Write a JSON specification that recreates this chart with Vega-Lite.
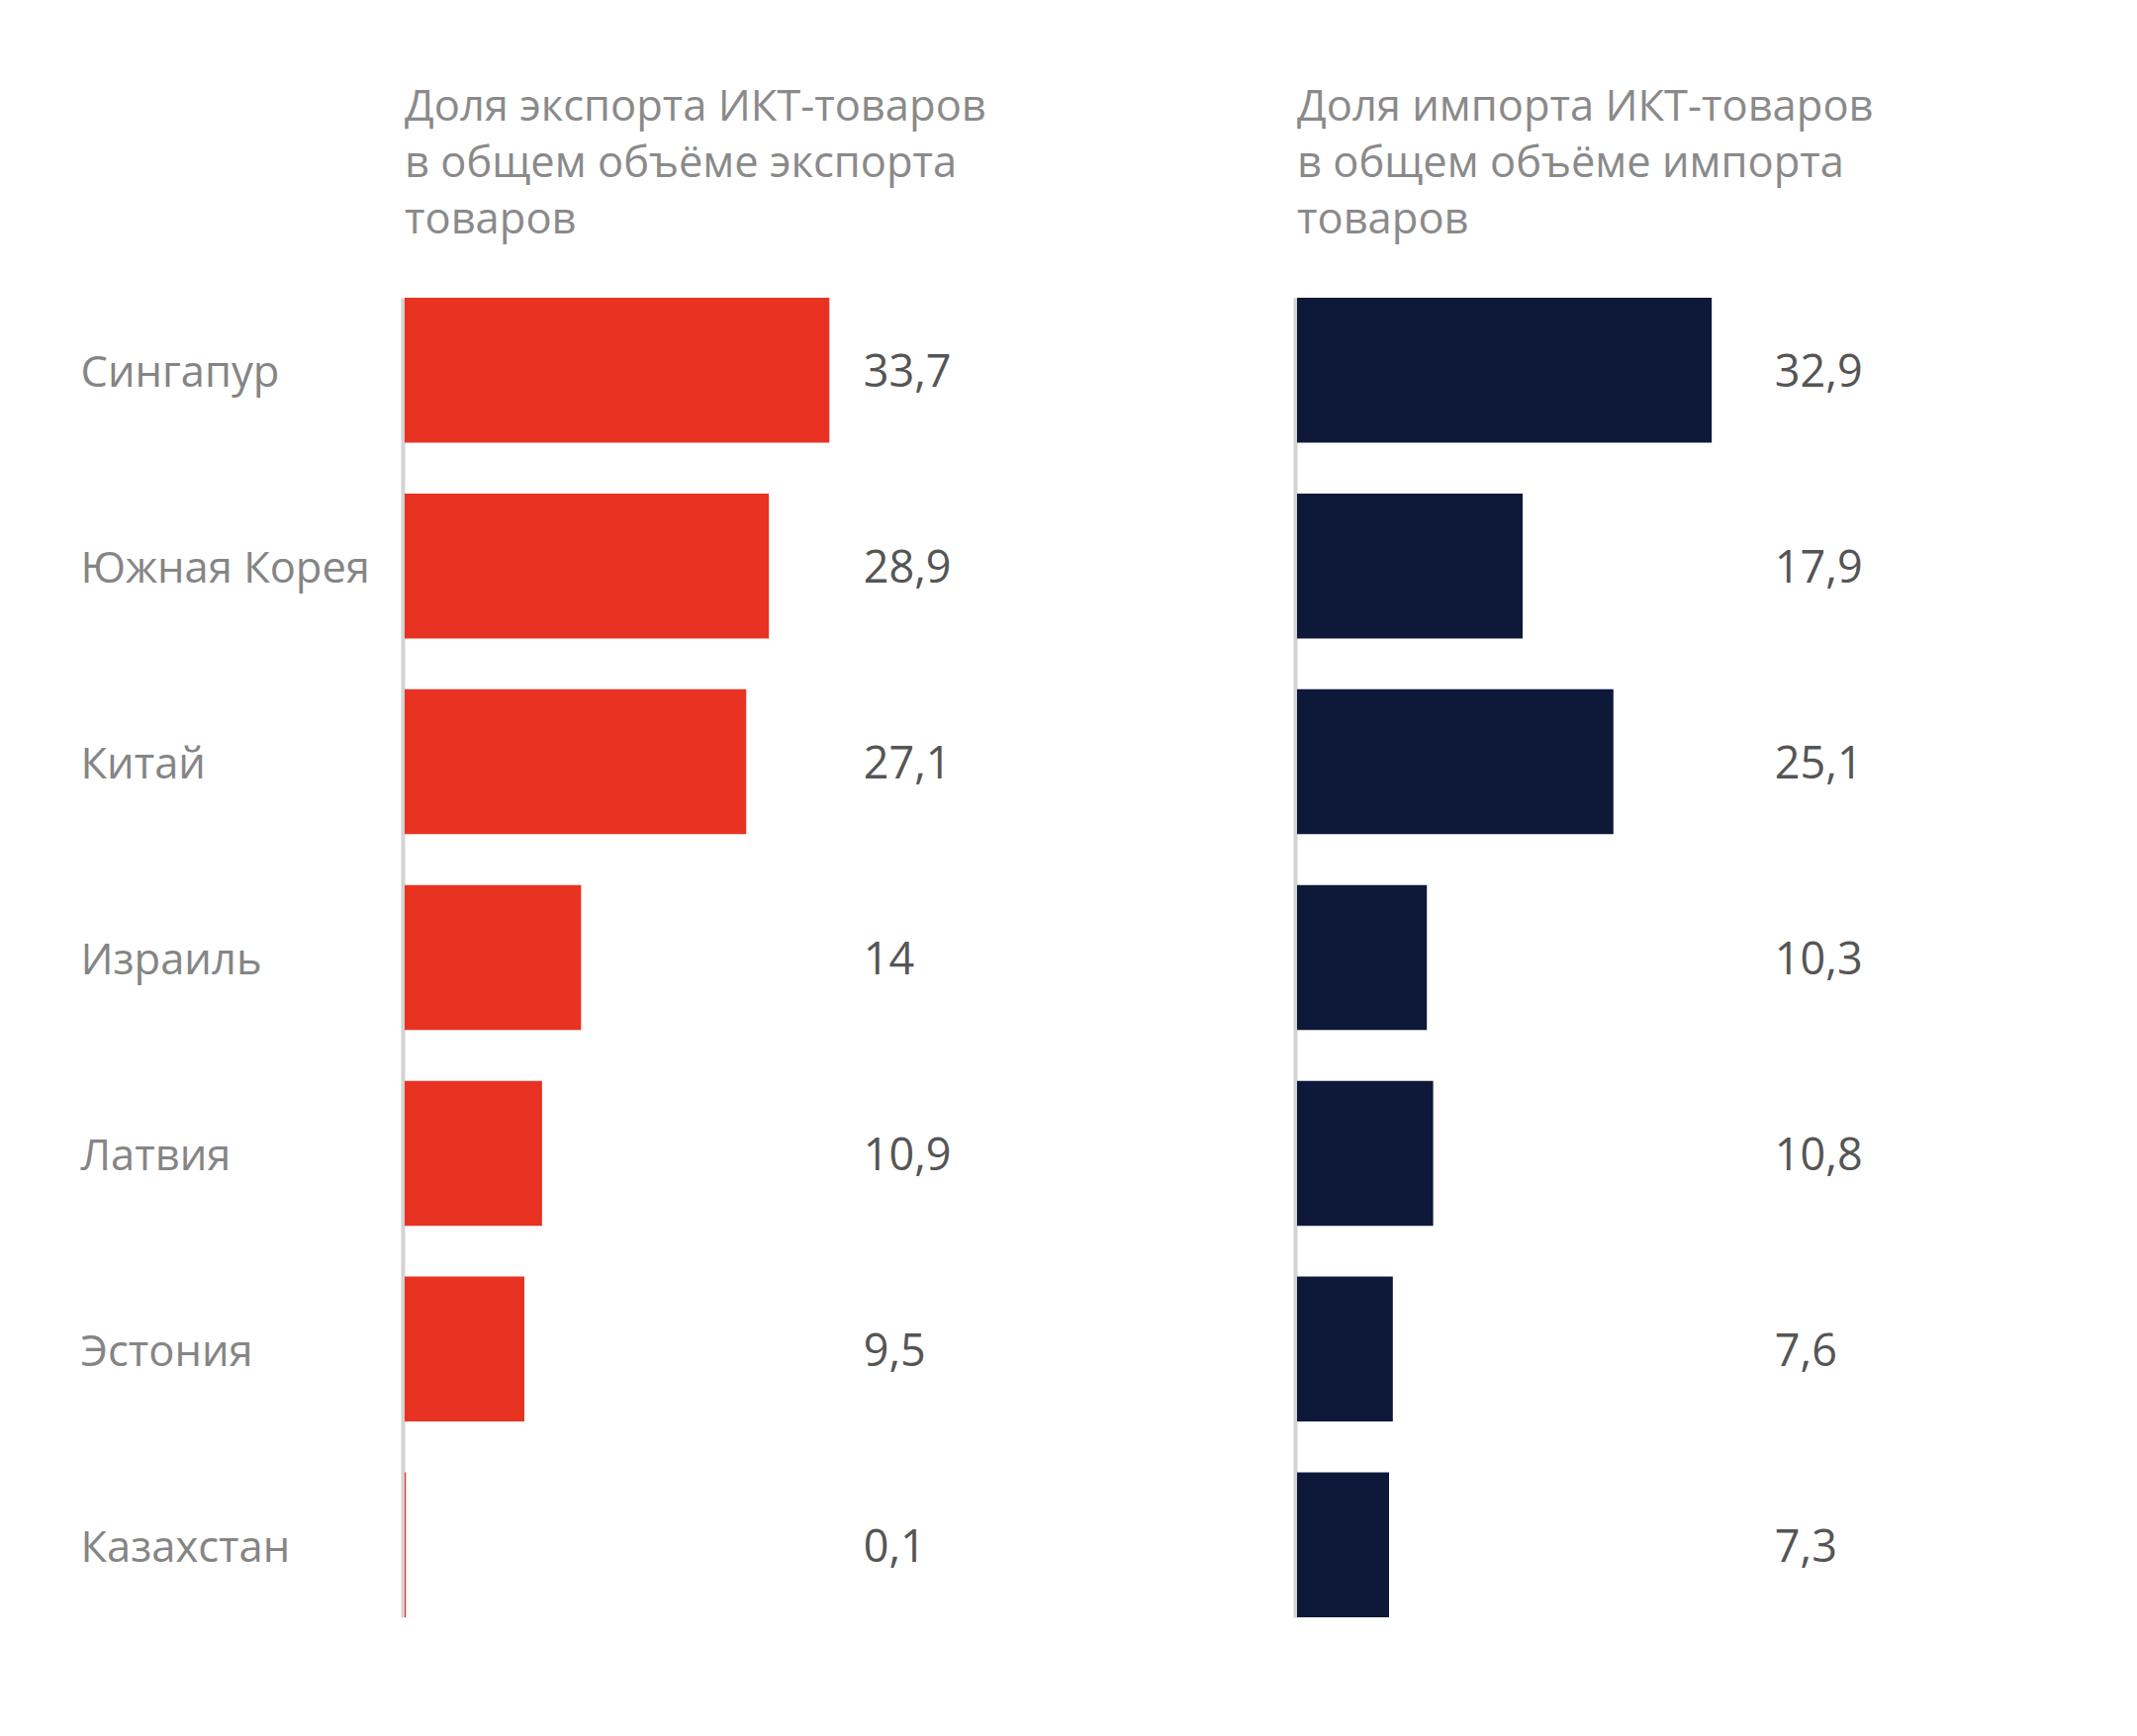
{
  "$schema": "https://vega.github.io/schema/vega-lite/v6.json",
  "background": "white",
  "padding": {"left": 81, "top": 86, "right": 20, "bottom": 40},
  "autosize": {"type": "pad"},
  "spacing": 263,
  "config": {
    "view": {"stroke": null},
    "font": "Open Sans",
    "locale": {"number": {"decimal": ",", "thousands": " ", "grouping": [3], "currency": ["", " ₽"]}}
  },
  "data": {
    "values": [
      {"country": "Сингапур", "export": 33.7, "import": 32.9},
      {"country": "Южная Корея", "export": 28.9, "import": 17.9},
      {"country": "Китай", "export": 27.1, "import": 25.1},
      {"country": "Израиль", "export": 14, "import": 10.3},
      {"country": "Латвия", "export": 10.9, "import": 10.8},
      {"country": "Эстония", "export": 9.5, "import": 7.6},
      {"country": "Казахстан", "export": 0.1, "import": 7.3}
    ]
  },
  "hconcat": [
    {
      "title": {
        "text": ["Доля экспорта ИКТ-товаров", "в общем объёме экспорта", "товаров"],
        "anchor": "start", "frame": "group", "fontSize": 43.5, "lineHeight": 57,
        "color": "#8a8a8a", "fontWeight": "normal", "font": "Open Sans", "offset": 56
      },
      "width": 637,
      "height": 1334,
      "encoding": {
        "y": {
          "field": "country", "type": "nominal", "sort": null,
          "scale": {"paddingInner": 0.26, "paddingOuter": 0},
          "axis": {
            "title": null, "domain": true, "domainColor": "#d3d3d3", "domainWidth": 4,
            "ticks": false, "tickSize": 0, "labelAlign": "left", "labelPadding": 326,
            "labelFontSize": 43.5, "labelColor": "#858585", "labelFont": "Open Sans",
            "labelOffset": 4, "labelLimit": 500, "offset": 2, "grid": false
          }
        }
      },
      "layer": [
        {
          "mark": {"type": "bar", "color": "#E83323"},
          "encoding": {
            "x": {"field": "export", "type": "quantitative", "scale": {"domain": [0, 50]}, "axis": null}
          }
        },
        {
          "mark": {"type": "text", "align": "left", "baseline": "middle", "dy": 3, "fontSize": 45, "color": "#555555", "font": "Open Sans"},
          "encoding": {
            "x": {"datum": 36.4, "type": "quantitative"},
            "text": {"field": "export", "type": "quantitative", "format": "~g"}
          }
        }
      ]
    },
    {
      "title": {
        "text": ["Доля импорта ИКТ-товаров", "в общем объёме импорта", "товаров"],
        "anchor": "start", "frame": "group", "fontSize": 43.5, "lineHeight": 57,
        "color": "#8a8a8a", "fontWeight": "normal", "font": "Open Sans", "offset": 56
      },
      "width": 637,
      "height": 1334,
      "encoding": {
        "y": {
          "field": "country", "type": "nominal", "sort": null,
          "scale": {"paddingInner": 0.26, "paddingOuter": 0},
          "axis": {
            "title": null, "domain": true, "domainColor": "#d3d3d3", "domainWidth": 4,
            "ticks": false, "tickSize": 0, "labels": false, "offset": 2, "grid": false
          }
        }
      },
      "layer": [
        {
          "mark": {"type": "bar", "color": "#0E1839"},
          "encoding": {
            "x": {"field": "import", "type": "quantitative", "scale": {"domain": [0, 50]}, "axis": null}
          }
        },
        {
          "mark": {"type": "text", "align": "left", "baseline": "middle", "dy": 3, "fontSize": 45, "color": "#555555", "font": "Open Sans"},
          "encoding": {
            "x": {"datum": 37.9, "type": "quantitative"},
            "text": {"field": "import", "type": "quantitative", "format": "~g"}
          }
        }
      ]
    }
  ]
}
